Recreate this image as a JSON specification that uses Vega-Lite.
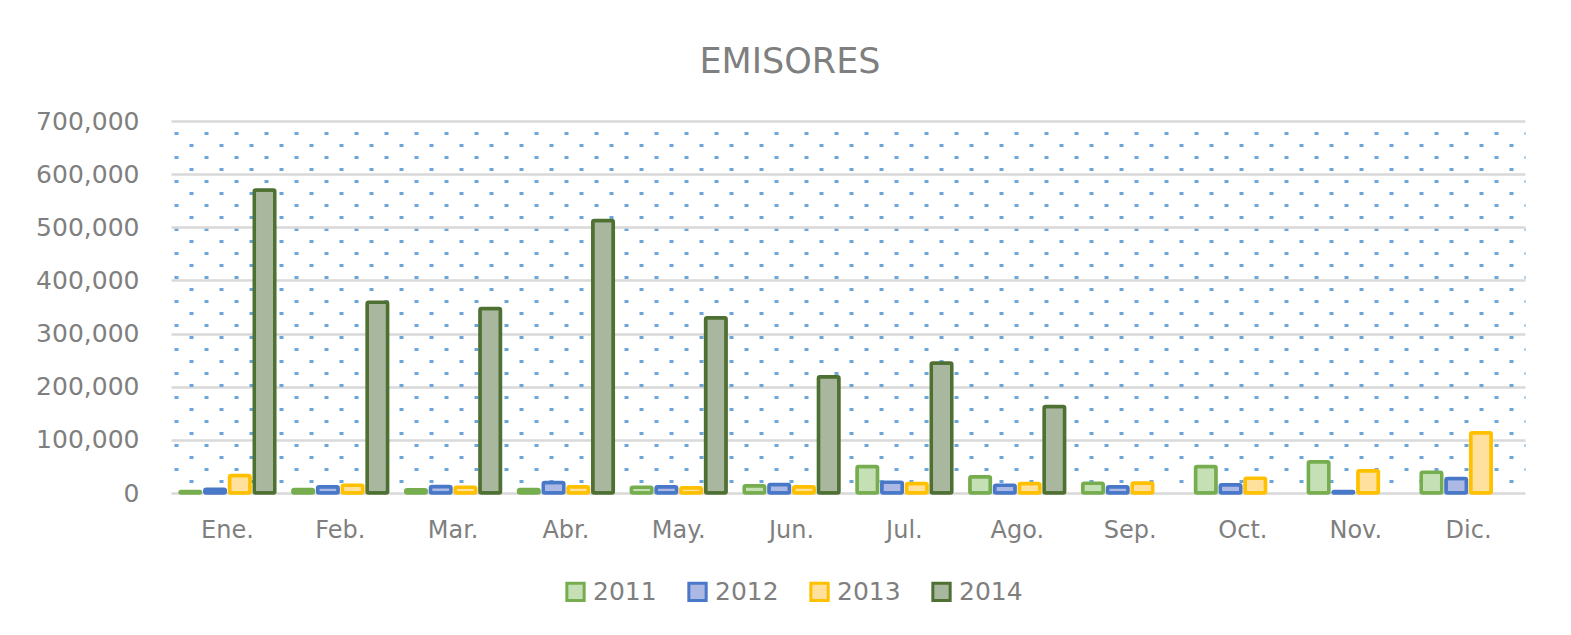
{
  "$schema": "https://vega.github.io/schema/vega-lite/v6.json",
  "width": 1354,
  "height": 372,
  "autosize": "none",
  "padding": {"left": 171, "top": 121, "right": 46, "bottom": 142},
  "background": "white",
  "title": {
    "text": "EMISORES",
    "font": "DejaVu Sans",
    "fontSize": 35,
    "fontWeight": "normal",
    "color": "#7f7f7f",
    "anchor": "middle",
    "frame": "group",
    "dx": -58,
    "offset": 29
  },
  "data": {
    "values": [
      {"month": "Ene.", "year": "2011", "value": 2800},
      {"month": "Ene.", "year": "2012", "value": 7200},
      {"month": "Ene.", "year": "2013", "value": 33000},
      {"month": "Ene.", "year": "2014", "value": 570000},
      {"month": "Feb.", "year": "2011", "value": 6600},
      {"month": "Feb.", "year": "2012", "value": 11700},
      {"month": "Feb.", "year": "2013", "value": 14700},
      {"month": "Feb.", "year": "2014", "value": 359000},
      {"month": "Mar.", "year": "2011", "value": 6000},
      {"month": "Mar.", "year": "2012", "value": 12200},
      {"month": "Mar.", "year": "2013", "value": 10900},
      {"month": "Mar.", "year": "2014", "value": 347000},
      {"month": "Abr.", "year": "2011", "value": 6600},
      {"month": "Abr.", "year": "2012", "value": 19800},
      {"month": "Abr.", "year": "2013", "value": 11700},
      {"month": "Abr.", "year": "2014", "value": 513000},
      {"month": "May.", "year": "2011", "value": 10900},
      {"month": "May.", "year": "2012", "value": 11700},
      {"month": "May.", "year": "2013", "value": 9800},
      {"month": "May.", "year": "2014", "value": 330000},
      {"month": "Jun.", "year": "2011", "value": 13500},
      {"month": "Jun.", "year": "2012", "value": 16000},
      {"month": "Jun.", "year": "2013", "value": 11700},
      {"month": "Jun.", "year": "2014", "value": 218700},
      {"month": "Jul.", "year": "2011", "value": 49900},
      {"month": "Jul.", "year": "2012", "value": 20300},
      {"month": "Jul.", "year": "2013", "value": 17900},
      {"month": "Jul.", "year": "2014", "value": 244600},
      {"month": "Ago.", "year": "2011", "value": 30500},
      {"month": "Ago.", "year": "2012", "value": 14700},
      {"month": "Ago.", "year": "2013", "value": 17900},
      {"month": "Ago.", "year": "2014", "value": 162800},
      {"month": "Sep.", "year": "2011", "value": 18400},
      {"month": "Sep.", "year": "2012", "value": 11700},
      {"month": "Sep.", "year": "2013", "value": 18800},
      {"month": "Oct.", "year": "2011", "value": 49900},
      {"month": "Oct.", "year": "2012", "value": 15400},
      {"month": "Oct.", "year": "2013", "value": 27900},
      {"month": "Nov.", "year": "2011", "value": 58700},
      {"month": "Nov.", "year": "2012", "value": 2800},
      {"month": "Nov.", "year": "2013", "value": 41800},
      {"month": "Dic.", "year": "2011", "value": 39100},
      {"month": "Dic.", "year": "2012", "value": 27300},
      {"month": "Dic.", "year": "2013", "value": 113300}
    ]
  },
  "mark": {"type": "bar", "strokeWidth": 3.5, "cornerRadius": 1.5},
  "encoding": {
    "x": {
      "field": "month",
      "type": "nominal",
      "sort": ["Ene.", "Feb.", "Mar.", "Abr.", "May.", "Jun.", "Jul.", "Ago.", "Sep.", "Oct.", "Nov.", "Dic."],
      "scale": {"paddingInner": 0.16, "paddingOuter": 0.08},
      "axis": {
        "title": null,
        "labelAngle": 0,
        "labelFont": "DejaVu Sans",
        "labelFontSize": 24,
        "labelColor": "#7f7f7f",
        "labelPadding": 25,
        "ticks": false,
        "domain": false,
        "grid": false
      }
    },
    "xOffset": {
      "field": "year",
      "type": "nominal",
      "scale": {"paddingInner": 0.17, "paddingOuter": 0}
    },
    "y": {
      "field": "value",
      "type": "quantitative",
      "scale": {"domain": [0, 700000], "nice": false, "zero": true},
      "axis": {
        "title": null,
        "values": [0, 100000, 200000, 300000, 400000, 500000, 600000, 700000,
          22580.65, 45161.29, 67741.94, 90322.58, 112903.23, 135483.87, 158064.52, 180645.16, 203225.81, 225806.45,
          248387.1, 270967.74, 293548.39, 316129.03, 338709.68, 361290.32, 383870.97, 406451.61, 429032.26, 451612.9,
          474193.55, 496774.19, 519354.84, 541935.48, 564516.13, 587096.77, 609677.42, 632258.06, 654838.71, 677419.35],
        "labelExpr": "datum.value % 100000 === 0 ? format(datum.value, ',') : ''",
        "labelOverlap": false,
        "labelFlush": false,
        "labelFont": "DejaVu Sans",
        "labelFontSize": 25,
        "labelColor": "#7f7f7f",
        "labelPadding": 32,
        "ticks": false,
        "domain": false,
        "grid": true,
        "gridColor": {"condition": {"test": "datum.value % 100000 === 0", "value": "#d9d9d9"}, "value": "#6aa6da"},
        "gridWidth": {"condition": {"test": "datum.value % 100000 === 0", "value": 2.5}, "value": 3},
        "gridDash": {"condition": {"test": "datum.value % 100000 === 0", "value": [10, 0]}, "value": [4, 26]},
        "gridDashOffset": {"condition": {"test": "round(datum.value / 22580.645) % 2 === 1", "value": 12}, "value": 27}
      }
    },
    "fill": {
      "field": "year",
      "type": "nominal",
      "scale": {"domain": ["2011", "2012", "2013", "2014"], "range": ["#c5e0b4", "#abb9e4", "#ffe09c", "#a8b79e"]},
      "legend": {
        "title": null,
        "orient": "none",
        "legendX": 392,
        "legendY": 458,
        "direction": "horizontal",
        "symbolType": "square",
        "symbolSize": 300,
        "symbolStrokeWidth": 3,
        "labelFont": "DejaVu Sans",
        "labelFontSize": 25,
        "labelColor": "#7f7f7f",
        "labelOffset": 5,
        "columnPadding": 25,
        "padding": 0
      }
    },
    "stroke": {
      "field": "year",
      "type": "nominal",
      "scale": {"domain": ["2011", "2012", "2013", "2014"], "range": ["#76ae4f", "#4a78c8", "#ffc000", "#4f7033"]},
      "legend": {
        "title": null,
        "orient": "none",
        "legendX": 392,
        "legendY": 458,
        "direction": "horizontal",
        "symbolType": "square",
        "symbolSize": 300,
        "symbolStrokeWidth": 3,
        "labelFont": "DejaVu Sans",
        "labelFontSize": 25,
        "labelColor": "#7f7f7f",
        "labelOffset": 5,
        "columnPadding": 25,
        "padding": 0
      }
    }
  },
  "config": {
    "view": {"stroke": null}
  }
}
